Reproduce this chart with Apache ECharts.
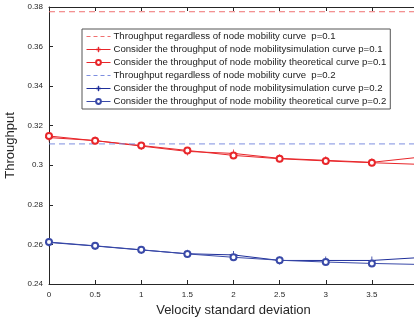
<!DOCTYPE html>
<html>
<head>
<meta charset="utf-8">
<script src="https://cdn.jsdelivr.net/npm/echarts@6/dist/echarts.min.js"></script>
<style>
html,body{margin:0;padding:0;background:#fff;}
#chart{width:414px;height:322px;}
</style>
</head>
<body>
<div id="chart"></div>
<script>
// Velocity standard deviation (x)
const velocity = [0, 0.5, 1, 1.5, 2, 2.5, 3, 3.5, 4];

// Throughput ignoring node mobility (constant reference levels)
const baseP1 = 0.3776;
const baseP2 = 0.3108;

// Throughput considering node mobility, p = 0.1
const simP1 = [0.3140, 0.3125, 0.3097, 0.3070, 0.3060, 0.3035, 0.3025, 0.3015, 0.3040];
const theoP1 = [0.3148, 0.3124, 0.3100, 0.3075, 0.3050, 0.3033, 0.3022, 0.3013, 0.3005];

// Throughput considering node mobility, p = 0.2
const simP2 = [0.2610, 0.2592, 0.2572, 0.2553, 0.2547, 0.2519, 0.2519, 0.2519, 0.2533];
const theoP2 = [0.2612, 0.2593, 0.2573, 0.2552, 0.2535, 0.2520, 0.2511, 0.2504, 0.2499];

const yTicks = [0.24, 0.26, 0.28, 0.30, 0.32, 0.34, 0.36, 0.38];

const legendNames = [
  'Throughput regardless of node mobility curve  p=0.1',
  'Consider the throughput of node mobilitysimulation curve p=0.1',
  'Consider the throughput of node mobility theoretical curve p=0.1',
  'Throughput regardless of node mobility curve  p=0.2',
  'Consider the throughput of node mobilitysimulation curve p=0.2',
  'Consider the throughput of node mobility theoretical curve p=0.2'
];

const RED = '#e8262a';
const RED_LIGHT = '#f07070';
const BLUE = '#1f2f9a';
const BLUE2 = '#3a4aa8';
const BLUE_LIGHT = '#7d8ee0';
const colors = [RED_LIGHT, RED, RED, BLUE_LIGHT, BLUE, BLUE2];
const DASH = [6, 4];

const plusSymbol = 'path://M4.5,0h1v4.5h4.5v1h-4.5v4.5h-1v-4.5h-4.5v-1h4.5z';

const pairs = arr => velocity.map((v, i) => [v, arr[i]]);
const flat = val => velocity.map(v => [v, val]);

const chart = echarts.init(document.getElementById('chart'), null, {renderer: 'canvas'});

const axisFont = {fontFamily: 'Liberation Sans, Arial, sans-serif', color: '#262626'};

// legend samples: thin lines, dashed entries without a marker
const legendData = legendNames.map((n, i) => {
  const dashed = (i === 0 || i === 3);
  return {
    name: n,
    lineStyle: {width: 1, color: colors[i], type: dashed ? [4, 3] : 'solid'},
    itemStyle: dashed ? {opacity: 0} : {color: colors[i], borderColor: colors[i], borderWidth: 1}
  };
});

chart.setOption({
  animation: false,
  backgroundColor: '#fff',
  grid: {left: 49, top: 7, width: 369, height: 277, containLabel: false, outerBoundsMode: 'none'},
  legend: {
    orient: 'vertical',
    left: 82,
    top: 29,
    padding: [2, 4, 2, 4],
    itemGap: 2,
    itemWidth: 24,
    itemHeight: 6,
    backgroundColor: '#fff',
    borderColor: '#555',
    borderWidth: 1,
    textStyle: {fontSize: 9.6, lineHeight: 11, fontFamily: 'Liberation Sans, Arial, sans-serif', color: '#222', padding: [0, 0, 0, -2]},
    data: legendData
  },
  xAxis: [{
    type: 'value', min: 0, max: 4, interval: 0.5,
    name: 'Velocity standard deviation', nameLocation: 'middle', nameGap: 20,
    nameTextStyle: Object.assign({fontSize: 13}, axisFont),
    axisLine: {lineStyle: {color: '#262626', width: 1}},
    axisTick: {inside: true, length: 4, lineStyle: {color: '#262626'}},
    axisLabel: Object.assign({fontSize: 8, margin: 7}, axisFont),
    splitLine: {show: false}
  }, {
    type: 'value', min: 0, max: 4, interval: 0.5, position: 'top',
    axisLine: {lineStyle: {color: '#262626', width: 1}},
    axisTick: {inside: true, length: 4, lineStyle: {color: '#262626'}},
    axisLabel: {show: false},
    splitLine: {show: false}
  }],
  yAxis: {
    type: 'value', min: yTicks[0], max: yTicks[yTicks.length - 1], interval: 0.02,
    name: 'Throughput', nameLocation: 'middle', nameGap: 30, nameRotate: 90,
    nameTextStyle: Object.assign({fontSize: 13}, axisFont),
    axisLine: {show: true, lineStyle: {color: '#262626', width: 1}},
    axisTick: {show: true, inside: true, length: 4, lineStyle: {color: '#262626'}},
    axisLabel: Object.assign({fontSize: 8, margin: 6, formatter: v => String(+v.toFixed(2))}, axisFont),
    splitLine: {show: false}
  },
  series: [
    {name: legendNames[0], type: 'line', data: flat(baseP1), showSymbol: false, symbol: 'none',
     lineStyle: {color: RED_LIGHT, width: 1, type: DASH}, itemStyle: {color: RED_LIGHT}},
    {name: legendNames[1], type: 'line', data: pairs(simP1), symbol: plusSymbol, symbolSize: 8,
     lineStyle: {color: RED, width: 1}, itemStyle: {color: RED}},
    {name: legendNames[2], type: 'line', data: pairs(theoP1), symbol: 'emptyCircle', symbolSize: 6,
     lineStyle: {color: RED, width: 1}, itemStyle: {color: RED, borderColor: RED, borderWidth: 1}},
    {name: legendNames[3], type: 'line', data: flat(baseP2), showSymbol: false, symbol: 'none',
     lineStyle: {color: BLUE_LIGHT, width: 1, type: DASH}, itemStyle: {color: BLUE_LIGHT}},
    {name: legendNames[4], type: 'line', data: pairs(simP2), symbol: plusSymbol, symbolSize: 8,
     lineStyle: {color: BLUE, width: 1}, itemStyle: {color: BLUE}},
    {name: legendNames[5], type: 'line', data: pairs(theoP2), symbol: 'emptyCircle', symbolSize: 6,
     lineStyle: {color: BLUE2, width: 1}, itemStyle: {color: BLUE2, borderColor: BLUE2, borderWidth: 1}}
  ]
});
</script>
</body>
</html>
